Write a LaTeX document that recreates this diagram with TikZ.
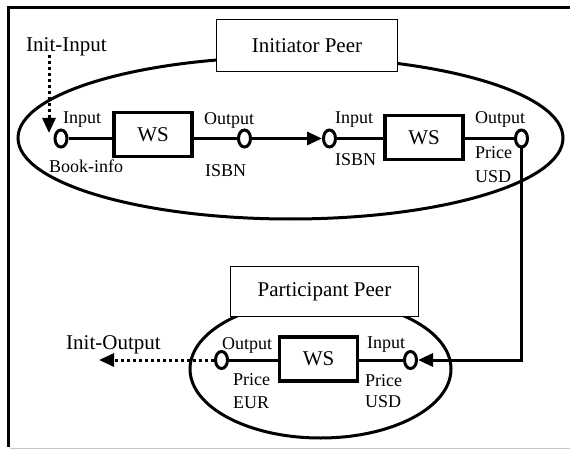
\documentclass[tikz,border=0pt]{standalone}
\usepackage{fontspec}
\setmainfont{Liberation Serif}
\usetikzlibrary{arrows.meta,shapes.geometric}
\begin{document}
\begin{tikzpicture}[x=1pt,y=-1pt,
  thickline/.style={line width=3pt},
  port/.style={ellipse, draw, line width=3pt, fill=white, minimum width=12pt, minimum height=17pt, inner sep=0pt},
  wsbox/.style={draw, line width=3.5pt, fill=white, minimum width=78pt, minimum height=44pt, inner sep=0pt, font=\fontsize{21}{24}\selectfont},
  peerbox/.style={draw, line width=1.5pt, fill=white, inner sep=0pt, font=\fontsize{21}{24}\selectfont},
  lbl/.style={anchor=base west, inner sep=0pt, font=\fontsize{18}{20}\selectfont},
  biglbl/.style={anchor=base west, inner sep=0pt, font=\fontsize{21}{24}\selectfont},
  flow/.style={line width=3pt, -{Triangle[length=15pt,width=13pt]}},
  dotflow/.style={line width=3pt, dash pattern=on 3pt off 3pt, -{Triangle[length=15pt,width=13pt]}},
]
\useasboundingbox (0,0) rectangle (570,449);
% frame
\draw[line width=3pt] (570,8) -- (8,8) -- (8,447);
\draw[gray!45, line width=1pt] (9.5,448) -- (570,448);

% peer regions
\draw[line width=3pt] (290.5,138) ellipse [x radius=272.5pt, y radius=81pt];
\draw[line width=3pt] (320.5,369) ellipse [x radius=130.5pt, y radius=69pt];

\node[peerbox, minimum width=181pt, minimum height=52pt] (ipeer) at (307,45.5) {Initiator Peer};
\node[peerbox, minimum width=188pt, minimum height=50pt] (ppeer) at (324.5,291.5) {Participant Peer};

% web services
\node[wsbox] (ws1) at (153,134.5) {WS};
\node[wsbox] (ws2) at (424,137.5) {WS};
\node[wsbox] (ws3) at (318.5,359) {WS};

% ports
\node[port] (p1) at (61,138.5) {};
\node[port] (p2) at (244.5,138.5) {};
\node[port] (p3) at (329.5,138.5) {};
\node[port] (p4) at (521.5,138.5) {};
\node[port] (p5) at (221.5,360) {};
\node[port] (p6) at (410.5,360) {};

\coordinate (inStart) at (49,55);
\coordinate (inTip) at (49,133);
\coordinate (outTip) at (99,360);

% connectors
\draw[thickline] (p1.east) -- (p1.east -| ws1.west);
\draw[thickline] (ws1.east |- p2) -- (p2.west);
\draw[flow] (p2.east) -- (p3.west);
\draw[thickline] (p3.east) -- (p3.east -| ws2.west);
\draw[thickline] (ws2.east |- p4) -- (p4.west);
\draw[flow] (p4.south) -- (p4.south |- p6) -- (p6.east);
\draw[thickline] (p6.west) -- (p6.west -| ws3.east);
\draw[thickline] (ws3.west |- p5) -- (p5.east);
\draw[dotflow] (p5.west) -- (outTip);
\draw[dotflow] (inStart) -- (inTip);

% labels
\node[biglbl] (initin) at (26,52) {Init-Input};
\node[biglbl] (initout) at (66,349.5) {Init-Output};

\node[lbl] (l1) at (63,124) {Input};
\node[lbl] (l2) at (49,173) {Book-info};
\node[lbl] (l3) at (204,125) {Output};
\node[lbl] (l4) at (205,177) {ISBN};
\node[lbl] (l5) at (335,124) {Input};
\node[lbl] (l6) at (335,166) {ISBN};
\node[lbl] (l7) at (475,124) {Output};
\node[lbl] (l8) at (475,159) {Price};
\node[lbl] (l9) at (475,183) {USD};

\node[lbl] (l10) at (222,349) {Output};
\node[lbl] (l11) at (233,385) {Price};
\node[lbl] (l12) at (233,408) {EUR};
\node[lbl] (l13) at (367,348) {Input};
\node[lbl] (l14) at (365,386) {Price};
\node[lbl] (l15) at (365,407) {USD};
\end{tikzpicture}
\end{document}
